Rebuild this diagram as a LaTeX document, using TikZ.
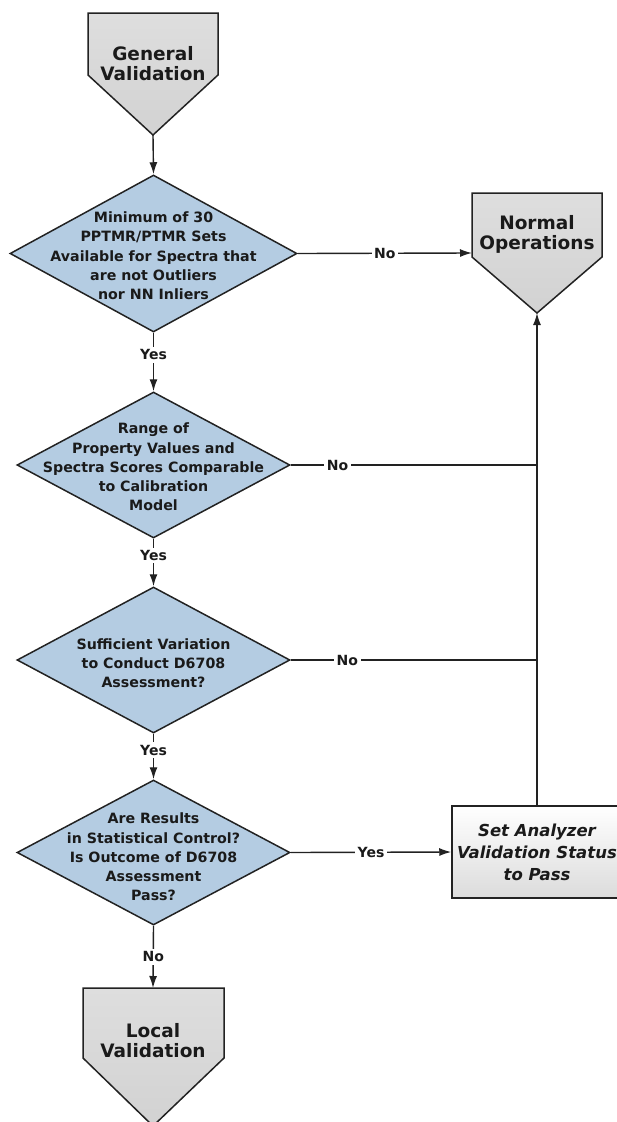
\documentclass[tikz,border=0pt]{standalone}
\usepackage{fontspec}
\setmainfont{DejaVu Sans}
\usetikzlibrary{shapes.geometric,arrows.meta}
\definecolor{dfill}{HTML}{B4CCE2}
\definecolor{lineclr}{HTML}{222222}
\definecolor{pgA}{HTML}{DEDEDE}
\definecolor{pgB}{HTML}{D2D2D2}
\definecolor{txt}{HTML}{1A1A1A}
\begin{document}
\begin{tikzpicture}[x=1pt,y=-1pt,
  dia/.style={diamond, draw=lineclr, line width=1.5pt, fill=dfill, inner sep=0pt},
  dtext/.style={align=center, font=\fontsize{14.2}{19.3}\selectfont\bfseries, text=txt, inner sep=0pt},
  ptext/.style={align=center, font=\fontsize{18.5}{20}\selectfont\bfseries, text=txt, inner sep=0pt},
  pent/.style={draw=lineclr, line width=1.5pt, top color=pgA, bottom color=pgB, line join=miter},
  conn/.style={draw=lineclr, line width=1.4pt},
  arr/.style={conn, -{Latex[length=12pt,width=8pt]}},
  lab/.style={fill=white, inner sep=2.5pt, font=\fontsize{14}{16}\selectfont\bfseries, text=txt},
  setbox/.style={draw=lineclr, line width=1.5pt, top color=white, bottom color=gray!28,
     minimum width=170pt, minimum height=92pt, inner sep=0pt, align=center,
     font=\fontsize{16.5}{22}\selectfont\bfseries\itshape, text=txt}
]
\useasboundingbox (0,0) rectangle (616,1122);

% General Validation
\draw[pent] (88,13) -- (218,13) -- (218,75) -- (153,135) -- (88,75) -- cycle;
\coordinate (gvtip) at (153,135);
\node[ptext] (gv) at (153,64) {General\\Validation};

% Normal Operations
\draw[pent] (472,193) -- (602,193) -- (602,257) -- (537,313) -- (472,257) -- cycle;
\coordinate (nowest) at (472,253);
\coordinate (notip) at (537,313);
\node[ptext] (no) at (537,234) {Normal\\Operations};

% Local Validation
\draw[pent] (83,988) -- (224,988) -- (224,1058) -- (153,1126) -- (83,1058) -- cycle;
\coordinate (lvtop) at (153,988);
\node[ptext] (lv) at (153,1041) {Local\\Validation};

% Diamonds
\node[dia, minimum width=287pt, minimum height=157pt] (d1) at (153.5,253.5) {};
\node[dtext] (d1t) at (153.5,256) {Minimum of 30\\PPTMR/PTMR Sets\\Available for Spectra that\\are not Outliers\\nor NN Inliers};

\node[dia, minimum width=273pt, minimum height=146pt] (d2) at (153.5,465) {};
\node[dtext] (d2t) at (153.5,467) {Range of\\Property Values and\\Spectra Scores Comparable\\to Calibration\\Model};

\node[dia, minimum width=273pt, minimum height=146pt] (d3) at (153.5,660) {};
\node[dtext] (d3t) at (153.5,663) {Sufficient Variation\\to Conduct D6708\\Assessment?};

\node[dia, minimum width=273pt, minimum height=145pt] (d4) at (153.5,852.5) {};
\node[dtext] (d4t) at (153.5,857) {Are Results\\in Statistical Control?\\Is Outcome of D6708\\Assessment\\Pass?};

% Set Analyzer box
\node[setbox] (sa) at (537,852) {Set Analyzer\\Validation Status\\to Pass};

% junctions
\coordinate (j2) at (537,465);
\coordinate (j3) at (537,660);

% connectors
\draw[arr] (gvtip) -- (d1.north);
\draw[arr] (d1.south) -- node[lab, pos=0.38] {Yes} (d2.north);
\draw[arr] (d2.south) -- node[lab, pos=0.35] {Yes} (d3.north);
\draw[arr] (d3.south) -- node[lab, pos=0.36] {Yes} (d4.north);
\draw[arr] (d4.south) -- node[lab, pos=0.5] {No} (lvtop);

\draw[arr] (d1.east) -- node[lab, pos=0.5] {No} (nowest);
\draw[conn] (d2.east) -- node[lab, pos=0.19] {No} (j2);
\draw[conn] (d3.east) -- node[lab, pos=0.23] {No} (j3);
\draw[arr] (d4.east) -- node[lab, pos=0.5] {Yes} (sa.west);
\draw[arr] (sa.north) -- (notip);
\end{tikzpicture}
\end{document}
